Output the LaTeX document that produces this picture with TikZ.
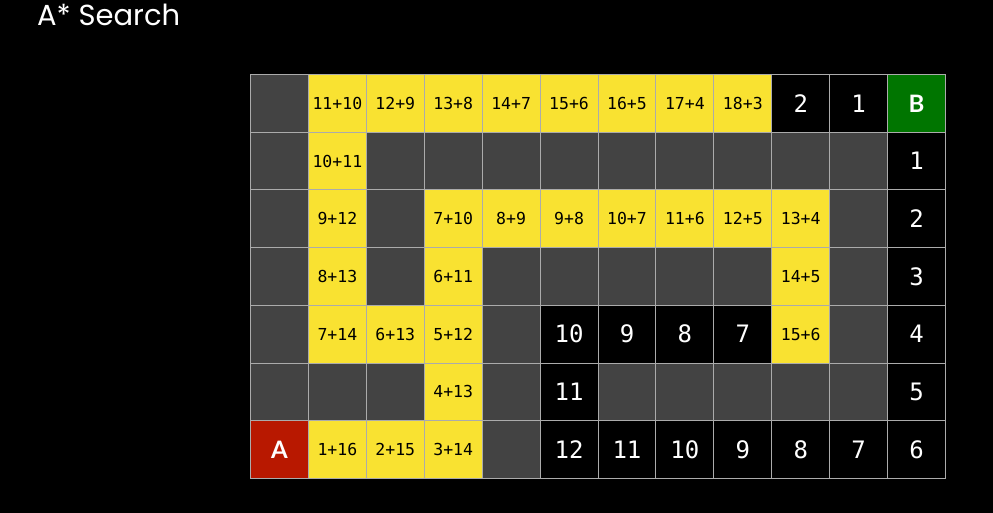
\documentclass[tikz,border=0pt]{standalone}
\usepackage{fontspec}
\setmainfont{Lato}
\newfontfamily\monofont{DejaVu Sans Mono}
\newfontfamily\boldsans{Lato}
\newfontfamily\titlefont{Poppins}
\definecolor{cdark}{HTML}{434343}
\definecolor{cyel}{HTML}{F9E231}
\definecolor{cgreen}{HTML}{007500}
\definecolor{cred}{HTML}{B81800}
\definecolor{cline}{HTML}{ABABAB}
\begin{document}
\begin{tikzpicture}[x=1pt,y=-1pt,
  cellbase/.style={draw=cline,line width=1pt,minimum width=57.92pt,minimum height=57.71pt,inner sep=0pt,anchor=north west},
  D/.style={cellbase,fill=cdark},
  Y/.style={cellbase,fill=cyel,text=black,font=\monofont\fontsize{16.5}{18}\selectfont},
  K/.style={cellbase,fill=black,text=white,font=\monofont\fontsize{24}{26}\selectfont},
  G/.style={cellbase,fill=cgreen,text=white,font=\boldsans\bfseries\fontsize{24}{26}\selectfont},
  R/.style={cellbase,fill=cred,text=white,font=\boldsans\bfseries\fontsize{24}{26}\selectfont}]
\fill[black] (0,0) rectangle (993,513);
\useasboundingbox (0,0) rectangle (993,513);
\node[anchor=base west,text=white,font=\titlefont\fontsize{29}{31}\selectfont,inner sep=0pt] (title) at (37,26) {A* Search};
\foreach \row/\cells in {
 0/{D/,Y/11+10,Y/12+9,Y/13+8,Y/14+7,Y/15+6,Y/16+5,Y/17+4,Y/18+3,K/2,K/1,G/B},
 1/{D/,Y/10+11,D/,D/,D/,D/,D/,D/,D/,D/,D/,K/1},
 2/{D/,Y/9+12,D/,Y/7+10,Y/8+9,Y/9+8,Y/10+7,Y/11+6,Y/12+5,Y/13+4,D/,K/2},
 3/{D/,Y/8+13,D/,Y/6+11,D/,D/,D/,D/,D/,Y/14+5,D/,K/3},
 4/{D/,Y/7+14,Y/6+13,Y/5+12,D/,K/10,K/9,K/8,K/7,Y/15+6,D/,K/4},
 5/{D/,D/,D/,Y/4+13,D/,K/11,D/,D/,D/,D/,D/,K/5},
 6/{R/A,Y/1+16,Y/2+15,Y/3+14,D/,K/12,K/11,K/10,K/9,K/8,K/7,K/6}}{
  \foreach \sty/\txt [count=\col from 0] in \cells {
    \node[\sty] (c-\row-\col) at ({250+\col*57.92},{74+\row*57.71}) {\txt};
  }
}
\end{tikzpicture}
\end{document}
